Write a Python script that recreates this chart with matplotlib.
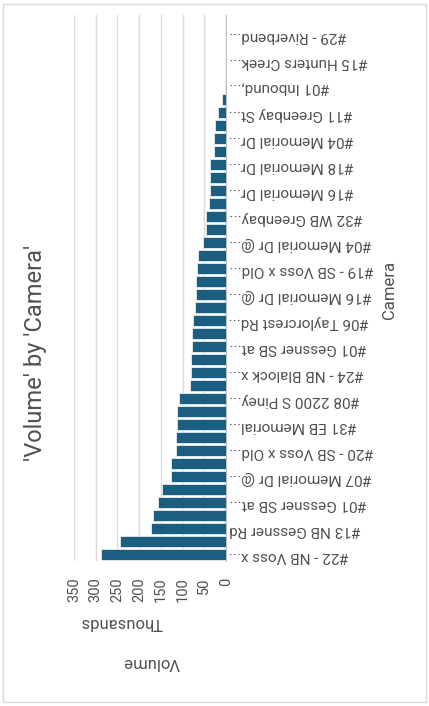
import matplotlib
matplotlib.use("Agg")
import matplotlib.pyplot as plt
from matplotlib.patches import Rectangle

plt.rcParams["font.family"] = ["Roboto", "DejaVu Sans"]

# ---- DATA ----
# volume per camera, in thousands, sorted from largest (bottom) to smallest (top)
volume_k = [288, 244, 172, 167, 156, 147, 126, 126, 114, 114,
            112, 112, 108, 84, 81, 81, 78, 78, 75, 72,
            69, 69, 67, 64, 52.5, 45, 45, 39, 36.5, 36.5,
            36.5, 28, 28, 25, 19, 8.4, 3, 0, 0, 0,
            0, 0]

# only every other camera name is shown on the axis
shown_labels = ["#22 - NB Voss x...", "#13 NB Gessner Rd", "#01 Gessner SB at...",
                "#07 Memorial Dr @...", "#20 - SB Voss x Old...", "#31 EB Memorial...",
                "#08 2200 S Piney...", "#24 - NB Blalock x...", "#01 Gessner SB at...",
                "#06 Taylorcrest Rd...", "#16 Memorial Dr @...", "#19 - SB Voss x Old...",
                "#04 Memorial Dr @...", "#32 WB Greenbay...", "#16 Memorial Dr...",
                "#18 Memorial Dr...", "#04 Memorial Dr...", "#11 Greenbay St...",
                "#01 Inbound,...", "#15 Hunters Creek...", "#29 - Riverbend..."]

value_ticks = [0, 50, 100, 150, 200, 250, 300, 350]

BAR = "#1B5E82"
TXT = "#505050"
GRID = "#D9D9D9"

fig = plt.figure(figsize=(4.29, 7.06), dpi=100)
fig.add_artist(Rectangle((0.006, 0.005), 0.988, 0.99, transform=fig.transFigure,
                         fill=False, edgecolor=GRID, lw=1))

ax = fig.add_axes([0.1725, 0.2054, 0.3543, 0.7734])
pos = list(range(len(volume_k)))
ax.barh(pos, volume_k, height=0.8, color=BAR, edgecolor="#E8EEF2", linewidth=0.6, zorder=3)

ax.set_xlim(350, 0)
ax.set_ylim(-0.5, len(volume_k) - 0.5)
ax.set_xticks(value_ticks)
ax.set_xticklabels([str(v) for v in value_ticks], rotation=90, fontsize=10.5, color=TXT)
ax.tick_params(axis="x", length=0, pad=12)
ax.grid(axis="x", color=GRID, lw=1, zorder=0)

ax.yaxis.tick_right()
ax.set_yticks(pos[::2])
ax.set_yticklabels(shown_labels, rotation=180, fontsize=11, color=TXT)
ax.tick_params(axis="y", length=0, pad=2)

for s in ["top", "bottom", "left"]:
    ax.spines[s].set_visible(False)
ax.spines["right"].set_color("#BFBFBF")

fig.text(0.082, 0.5, "'Volume' by 'Camera'", rotation=90, fontsize=17,
         color=TXT, ha="center", va="center")
fig.text(0.909, 0.589, "Camera", rotation=90, fontsize=12, color=TXT,
         ha="center", va="center")
fig.text(0.284, 0.1176, "Thousands", rotation=180, fontsize=12, color=TXT,
         ha="center", va="center")
fig.text(0.352, 0.061, "Volume", rotation=180, fontsize=12, color=TXT,
         ha="center", va="center")

fig.savefig("out.png", dpi=100)
